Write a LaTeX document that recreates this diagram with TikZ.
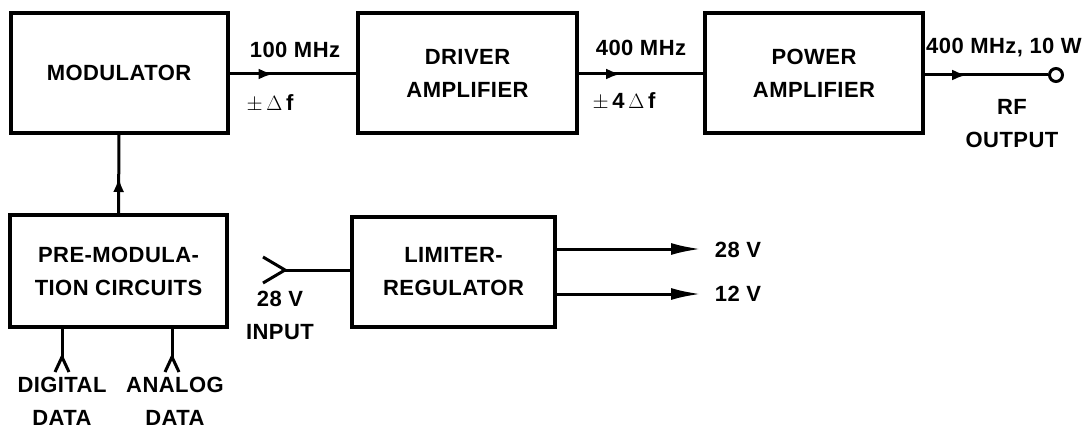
\documentclass[tikz,border=0pt]{standalone}
\usepackage{fontspec}
\setmainfont{Liberation Sans}[LetterSpace=2]
\usetikzlibrary{arrows.meta,decorations.markings}
\begin{document}
\begin{tikzpicture}[x=1pt,y=-1pt,
  txt/.style={font=\fontsize{22}{33}\selectfont\bfseries, inner sep=0pt, align=center},
  blk/.style={draw, line width=4pt, txt, minimum width=#1},
  conn/.style={line width=3pt},
  midarrow/.style={conn, postaction={decorate}, decoration={markings,
     mark=at position #1 with {\arrow{Latex[length=15pt,width=11pt]}}}},
  outarrow/.style={conn, -{Latex[length=30pt,width=12pt]}},
  fork/.style={line width=3pt, line join=miter}
]
\useasboundingbox (0,0) rectangle (1085,428);
% blocks
\node[blk=217pt, minimum height=120pt] (mod) at (119,73) {MODULATOR};
\node[blk=219pt, minimum height=119pt] (drv) at (467.5,73) {DRIVER\\AMPLIFIER};
\node[blk=218pt, minimum height=119pt] (pwr) at (814,73) {POWER\\AMPLIFIER};
\node[blk=217pt, minimum height=112pt] (pre) at (118.5,271) {PRE-MODULA-\\TION CIRCUITS};
\node[blk=203pt, minimum height=110pt] (lim) at (453.5,272) {LIMITER-\\REGULATOR};
% RF output terminal
\node[draw, circle, line width=3pt, minimum size=13pt, inner sep=0pt] (rf) at (1056,75) {};
% top chain
\draw[midarrow=44pt] (mod.east |- 0,74) -- (drv.west |- 0,74);
\draw[midarrow=42pt] (drv.east |- 0,74) -- (pwr.west |- 0,74);
\draw[midarrow=42pt] (pwr.east |- 0,75) -- (rf.west);
% pre-mod to modulator
\draw[midarrow=36pt] (pre.north) -- (mod.south);
% inputs to pre-mod
\coordinate (dg) at (62,357);
\coordinate (an) at (172,357);
\draw[conn] (pre.south -| dg) -- (dg);
\draw[conn] (pre.south -| an) -- (an);
\draw[fork] ([xshift=-7pt,yshift=-15pt]dg) -- (dg) -- ([xshift=7pt,yshift=-15pt]dg);
\draw[fork] ([xshift=-7pt,yshift=-15pt]an) -- (an) -- ([xshift=7pt,yshift=-15pt]an);
% 28 V input
\coordinate (vin) at (285,270);
\draw[conn] (vin) -- (lim.west |- vin);
\draw[fork] ([xshift=-22pt,yshift=-13pt]vin) -- (vin) -- ([xshift=-22pt,yshift=13pt]vin);
% outputs
\coordinate (o28) at (701,249);
\coordinate (o12) at (701,294);
\draw[outarrow] (lim.east |- o28) -- (o28);
\draw[outarrow] (lim.east |- o12) -- (o12);
% labels
\node[txt] (l100) at (295,50) {100 MHz};
\node[txt] (ldf) at (270,103) {$\pm$\,$\Delta$\,f};
\node[txt] (l400) at (641,48) {400 MHz};
\node[txt] (l4df) at (624,101) {$\pm$\,4\,$\Delta$\,f};
\node[txt] (l40010) at (1004,48) {400 MHz, 10 W};
\node[txt] (lrf) at (1012,124) {RF\\OUTPUT};
\node[txt] (lin) at (280,315) {28 V\\INPUT};
\node[txt] (v28) at (738,250) {28 V};
\node[txt] (v12) at (738,294) {12 V};
\node[txt] (ldg) at (62,401) {DIGITAL\\DATA};
\node[txt] (lan) at (175,401) {ANALOG\\DATA};
\end{tikzpicture}
\end{document}
